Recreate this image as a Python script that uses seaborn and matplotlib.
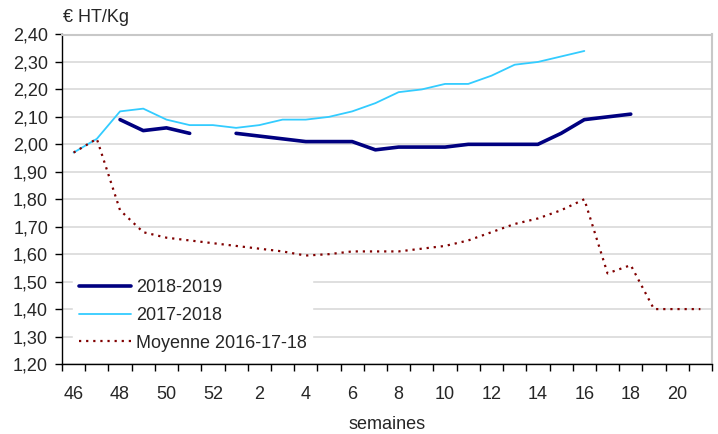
import numpy as np
import pandas as pd
import seaborn as sns
from matplotlib import pyplot as plt
from matplotlib.ticker import FixedLocator, FuncFormatter

# semaines 46..52 puis 1..21
weeks = [46, 47, 48, 49, 50, 51, 52] + list(range(1, 22))

s_2018_2019 = [np.nan, np.nan, 2.09, 2.05, 2.06, 2.04, np.nan,
               2.04, 2.03, 2.02, 2.01, 2.01, 2.01, 1.98, 1.99, 1.99, 1.99,
               2.00, 2.00, 2.00, 2.00, 2.04, 2.09, 2.10, 2.11,
               np.nan, np.nan, np.nan]
s_2017_2018 = [1.97, 2.02, 2.12, 2.13, 2.09, 2.07, 2.07,
               2.06, 2.07, 2.09, 2.09, 2.10, 2.12, 2.15, 2.19, 2.20, 2.22,
               2.22, 2.25, 2.29, 2.30, 2.32, 2.34,
               np.nan, np.nan, np.nan, np.nan, np.nan]
s_moyenne = [1.97, 2.02, 1.76, 1.68, 1.66, 1.65, 1.64,
             1.63, 1.62, 1.61, 1.595, 1.60, 1.61, 1.61, 1.61, 1.62, 1.63,
             1.65, 1.68, 1.71, 1.73, 1.76, 1.80, 1.53, 1.56, 1.40, 1.40, 1.40]

df = pd.DataFrame({
    "pos": np.arange(len(weeks)),
    "2018-2019": s_2018_2019,
    "2017-2018": s_2017_2018,
    "Moyenne 2016-17-18": s_moyenne,
})

sns.set_style("white")
plt.rcParams["font.family"] = ["Liberation Sans", "DejaVu Sans"]
FS = 13

fig = plt.figure(figsize=(7.18, 4.34), dpi=100)
ax = fig.add_axes([62 / 718, 1 - 364 / 434, 650 / 718, 329.5 / 434])

styles = {
    "2018-2019": dict(color="#000080", linewidth=2.6, zorder=3),
    "2017-2018": dict(color="#33CCFF", linewidth=1.3, zorder=2),
    "Moyenne 2016-17-18": dict(color="#800000", linewidth=1.6, linestyle=(0, (1, 2.2)), zorder=4),
}

for name, st in styles.items():
    sub = df[["pos", name]]
    # tracer chaque segment continu séparément (les trous restent des trous)
    run = sub[name].isna().cumsum()
    first = True
    for _, seg in sub[sub[name].notna()].groupby(run[sub[name].notna()]):
        sns.lineplot(data=seg, x="pos", y=name, ax=ax, label=name if first else None,
                     legend=False, **st)
        first = False

ax.set_xlim(-0.5, len(weeks) - 0.5)
ax.set_ylim(1.2, 2.4)
ax.set_yticks(np.arange(1.2, 2.41, 0.1))
ax.yaxis.set_major_formatter(FuncFormatter(lambda v, _: f"{v:.2f}".replace(".", ",")))
ax.yaxis.grid(True, color="#D6D6D6", linewidth=1.1)
ax.set_axisbelow(True)

ax.xaxis.set_major_locator(FixedLocator(np.arange(0, len(weeks), 2)))
ax.set_xticklabels([str(w) for w in weeks[::2]])
ax.xaxis.set_minor_locator(FixedLocator(np.arange(-0.5, len(weeks), 1)))
ax.tick_params(axis="x", which="major", length=0, pad=16, labelsize=FS)
ax.tick_params(axis="x", which="minor", length=5, width=1, color="black", direction="out", bottom=True)
ax.tick_params(axis="y", length=5, width=1, color="black", direction="out", left=True, pad=5, labelsize=FS)

for side in ("left", "bottom"):
    ax.spines[side].set_color("black")
    ax.spines[side].set_linewidth(1)
for side in ("top", "right"):
    ax.spines[side].set_color("#C8C8C8")
    ax.spines[side].set_linewidth(1.5)

ax.set_xlabel("semaines", fontsize=FS, labelpad=9.5)
ax.set_ylabel("")
fig.text(63 / 718, 1 - 17 / 434, "€ HT/Kg", fontsize=FS, va="center", ha="left")

leg = ax.legend(loc="lower left", bbox_to_anchor=(0.012, 0.01), frameon=True, fancybox=False,
                handlelength=2.9, handletextpad=0.25, labelspacing=0.6, fontsize=FS,
                borderaxespad=0.2, borderpad=0.3)
leg.get_frame().set_edgecolor("white")
leg.get_frame().set_facecolor("white")
leg.get_frame().set_alpha(1)

fig.savefig("out.png", dpi=100)
